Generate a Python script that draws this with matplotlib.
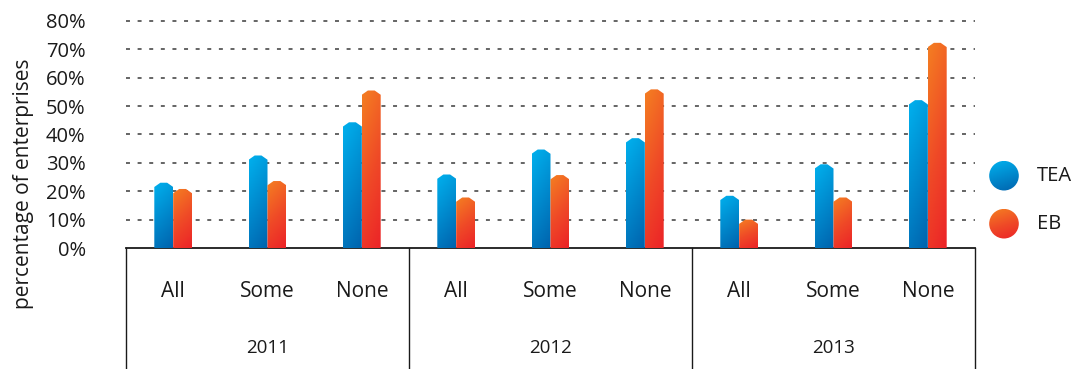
import numpy as np
import matplotlib
matplotlib.use("Agg")
import matplotlib.pyplot as plt
from matplotlib.patches import Polygon, Circle
from matplotlib.colors import LinearSegmentedColormap

# ------------------------- Dados -------------------------
years = ["2011", "2012", "2013"]
categories = ["All", "Some", "None"]
tea = [23.0, 32.6, 44.3, 25.9, 34.7, 38.7, 18.4, 29.5, 52.1]
eb = [20.8, 23.6, 55.5, 17.8, 25.7, 55.9, 10.0, 17.8, 72.3]
series_labels = ["TEA", "EB"]
yticks = [0, 10, 20, 30, 40, 50, 60, 70, 80]

# ------------------------- Estilo -------------------------
plt.rcParams['font.family'] = ['Open Sans', 'DejaVu Sans']
blue_cmap = LinearSegmentedColormap.from_list("blue", ["#0063ad", "#0088cc", "#00adeb"])
orange_cmap = LinearSegmentedColormap.from_list("orange", ["#ec2327", "#ef4a27", "#f47a22"])
txt = "#1a1a1a"

W, H = 1073, 369
fig = plt.figure(figsize=(W / 100, H / 100), dpi=100)
ax = fig.add_axes([126 / W, 1 - 248 / H, (975 - 126) / W, (248 - 15.3) / H])

ymax = 82


def gradient(n=64):
    yy, xx = np.mgrid[0:1:n * 1j, 0:1:n * 1j]
    # linha 0 = base (escura); topo/esquerda = claro
    return np.clip(0.8 * yy + 0.25 * (1 - xx), 0, 1)


def beveled_bar(ax, x0, w, h, cmap):
    b = min(1.5, h * 0.5)  # altura do chanfro
    c = w * 0.32
    pts = [(x0, 0), (x0 + w, 0), (x0 + w, h - b), (x0 + w - c, h),
           (x0 + c, h), (x0, h - b)]
    poly = Polygon(pts, closed=True, facecolor="none", edgecolor="none")
    ax.add_patch(poly)
    im = ax.imshow(gradient(), cmap=cmap, origin="lower", extent=(x0, x0 + w, 0, h),
                   aspect="auto", interpolation="bilinear", zorder=3)
    im.set_clip_path(poly)


x = np.arange(len(tea))
bw = 0.2
bars_tea = ax.bar(x - bw / 2, tea, bw, color="none")
bars_eb = ax.bar(x + bw / 2, eb, bw, color="none")
for b in bars_tea:
    beveled_bar(ax, b.get_x(), b.get_width(), b.get_height(), blue_cmap)
for b in bars_eb:
    beveled_bar(ax, b.get_x(), b.get_width(), b.get_height(), orange_cmap)

ax.set_xlim(-0.5, 8.5)
ax.set_ylim(0, ymax)

# grelha
for t in yticks[1:]:
    ax.axhline(t, color="#3a3a3a", lw=1.1, ls=(0, (2.6, 5.0)), zorder=1)

ax.set_yticks(yticks)
ax.set_yticklabels([f"{t}%" for t in yticks], fontsize=14.5, color=txt)
ax.tick_params(axis="y", length=0, pad=29)
ax.set_xticks([])
for s in ["top", "right", "left"]:
    ax.spines[s].set_visible(False)
ax.spines["bottom"].set_linewidth(1.3)
ax.spines["bottom"].set_color(txt)

# eixo de categorias (caixa)
trans = ax.get_xaxis_transform()
for xv in [-0.5, 2.5, 5.5, 8.5]:
    ax.plot([xv, xv], [0, -0.55], transform=trans, color=txt, lw=1.0, clip_on=False)
for i, xc in enumerate(x):
    ax.text(xc, -0.185, categories[i % 3], transform=trans, ha="center", va="center",
            fontsize=15, color=txt)
for j, yr in enumerate(years):
    ax.text(3 * j + 1, -0.43, yr, transform=trans, ha="center", va="center",
            fontsize=13.5, color=txt)

fig.text(24 / W, 1 - 184 / H, "percentage of enterprises", rotation=90,
         ha="center", va="center", fontsize=15, color=txt)

# legenda
lax = fig.add_axes([985 / W, 1 - 250 / H, (1073 - 985) / W, 100 / H])
lax.axis("off")
for cy, cmap, lab in [(175.7, blue_cmap, series_labels[0]), (223.7, orange_cmap, series_labels[1])]:
    r = 14.8
    circ = Circle((1004, cy), r, facecolor="none", edgecolor="none")
    lax.add_patch(circ)
    im = lax.imshow(gradient(), cmap=cmap, origin="upper", extent=(1004 - r, 1004 + r, cy - r, cy + r),
                    aspect="auto", interpolation="bilinear")
    im.set_clip_path(circ)
    lax.text(1037, cy, lab, ha="left", va="center", fontsize=14.5, color=txt)
lax.set_xlim(985, 1073)
lax.set_ylim(250, 150)

fig.savefig("out.png", dpi=100)
